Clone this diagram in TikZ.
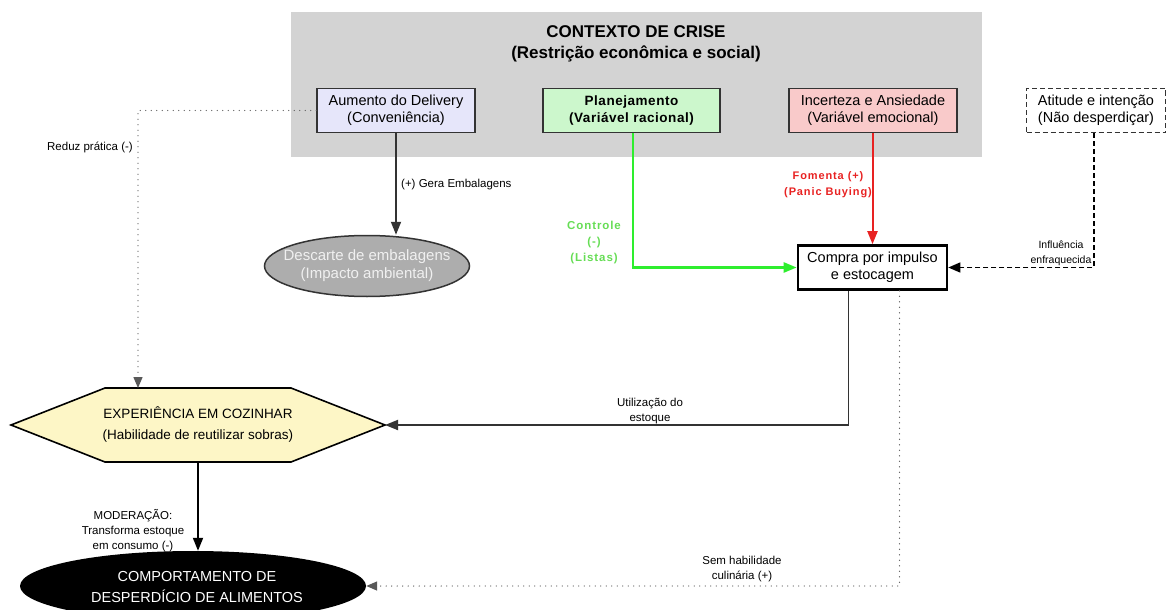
\documentclass[tikz,border=0pt]{standalone}
\usepackage{fontspec}
\setmainfont{Liberation Sans}
\newfontfamily\spacedfont[LetterSpace=8]{Liberation Sans}
\newfontfamily\halfspacedfont[LetterSpace=4]{Liberation Sans}
\usetikzlibrary{arrows.meta,shapes.geometric}
\definecolor{crisegray}{HTML}{D3D3D3}
\definecolor{boxline}{HTML}{333333}
\definecolor{lavbox}{HTML}{E6E6FA}
\definecolor{greenbox}{HTML}{CCF7CC}
\definecolor{redbox}{HTML}{F9CACA}
\definecolor{hexyellow}{HTML}{FDF6C6}
\definecolor{descgray}{HTML}{ADADAD}
\definecolor{desctext}{HTML}{F0F0F0}
\definecolor{greenline}{HTML}{2EEE2E}
\definecolor{greentext}{HTML}{66DD55}
\definecolor{redline}{HTML}{E82222}

\begin{document}
\begin{tikzpicture}[x=1pt,y=-1pt]
    \tikzstyle{box}=[draw=boxline,line width=1.5pt,align=center,minimum height=44pt,
        font=\fontsize{14.5}{17}\selectfont]
    \tikzstyle{lbl}=[align=center,inner sep=0pt,font=\fontsize{11.5}{15}\selectfont]
    \tikzstyle{arr}=[line width=1.8pt,-{Triangle[length=13pt,width=10pt]}]
    \tikzstyle{dots}=[line width=1.4pt,line cap=round,dash pattern=on 0pt off 5.5pt,draw=black!65]
    \useasboundingbox (0,0) rectangle (1168,610);
    \clip (0,0) rectangle (1168,610);
    % Context
    \fill[crisegray] (291,12) rectangle (982,157);
    \node[align=center,font=\fontsize{17}{21}\selectfont\bfseries] (crise) at (636,44)
        {CONTEXTO DE CRISE\\(Restrição econômica e social)};
    % Boxes
    \node[box,fill=lavbox,minimum width=158pt] (delivery) at (396,110.5)
        {Aumento do Delivery\\(Conveniência)};
    \node[box,fill=greenbox,minimum width=177pt,
        font=\halfspacedfont\fontsize{13.5}{17}\selectfont\bfseries]
        (plan) at (631.5,110.5) {Planejamento\\(Variável racional)};
    \node[box,fill=redbox,minimum width=168pt] (incerteza) at (873,110.5)
        {Incerteza e Ansiedade\\(Variável emocional)};
    \node[box,dash pattern=on 5pt off 3pt,minimum width=139pt] (atitude) at (1096,110.5)
        {Atitude e intenção\\(Não desperdiçar)};
    \node[box,draw=black,line width=2.6pt,minimum width=149pt] (compra) at (872.5,267.5)
        {Compra por impulso\\e estocagem};
    \node[ellipse,draw=boxline,line width=1.5pt,fill=descgray,minimum width=205pt,
        minimum height=61pt] (descarte) at (367,266) {};
    \node[align=center,text=desctext,font=\fontsize{15}{18}\selectfont] (descartetxt)
        at (descarte) {Descarte de embalagens\\(Impacto ambiental)};
    \node[ellipse,fill=black,minimum width=346pt,minimum height=70pt] (desperdicio)
        at (193,586) {};
    \node[align=center,text=white,font=\fontsize{14.5}{21}\selectfont] (desperdiciotxt)
        at (197,587) {COMPORTAMENTO DE\\DESPERDÍCIO DE ALIMENTOS};
    % Hexagon
    \draw[line width=1.6pt,fill=hexyellow] (11,425) -- (105,388) -- (291,388) -- (385,425)
        -- (291,462) -- (105,462) -- cycle;
    \node[align=center,font=\fontsize{13.5}{21}\selectfont] (cozinhar) at (198,424)
        {EXPERIÊNCIA EM COZINHAR\\(Habilidade de reutilizar sobras)};
    \coordinate (cozE) at (385,425);
    \coordinate (cozN) at (138,388);
    \coordinate (cozS) at (198,462);
    % Arrows
    \draw[arr,draw=boxline] (delivery.south) -- (delivery.south |- descarte.north);
    \draw[dots,-{Triangle[length=11pt,width=9pt]}] (delivery.west) -| (cozN);
    \draw[arr,line width=2.4pt,draw=greenline,-{Triangle[length=13pt,width=10pt,fill=greenline]}]
        (plan.south -| 633,0) |- (compra.west);
    \draw[arr,line width=2pt,draw=redline,-{Triangle[length=13pt,width=10pt,fill=redline]}]
        (incerteza.south -| compra.north) -- (compra.north);
    \draw[line width=1.5pt,dash pattern=on 5pt off 3pt,-{Triangle[length=12pt,width=10pt]}]
        (atitude.south -| 1094,0) |- (compra.east);
    \draw[arr,draw=boxline] ([xshift=-24pt]compra.south) |- (cozE);
    \draw[dots,-{Triangle[length=11pt,width=9pt]}] ([xshift=27pt]compra.south) |- (desperdicio.east);
    \draw[arr] (cozS) -- (cozS |- desperdicio.north);
    % Labels
    \node[lbl,anchor=west] (gera) at (401,185) {(+) Gera Embalagens};
    \node[lbl,anchor=east] (reduz) at (133,147) {Reduz prática (-)};
    \node[lbl,text=greentext,font=\spacedfont\fontsize{11.5}{16}\selectfont\bfseries] (controle)
        at (594,243) {Controle\\(-)\\(Listas)};
    \node[lbl,text=redline,font=\spacedfont\fontsize{11}{16}\selectfont\bfseries] (fomenta)
        at (828,185) {Fomenta (+)\\(Panic Buying)};
    \node[lbl,font=\fontsize{10.5}{15}\selectfont] (influencia) at (1061,253)
        {Influência\\enfraquecida};
    \node[lbl] (utilizacao) at (650,411) {Utilização do\\estoque};
    \node[lbl] (semhab) at (742,569) {Sem habilidade\\culinária (+)};
    \node[lbl] (moderacao) at (133,531) {MODERAÇÃO:\\Transforma estoque\\em consumo (-)};
\end{tikzpicture}
\end{document}
